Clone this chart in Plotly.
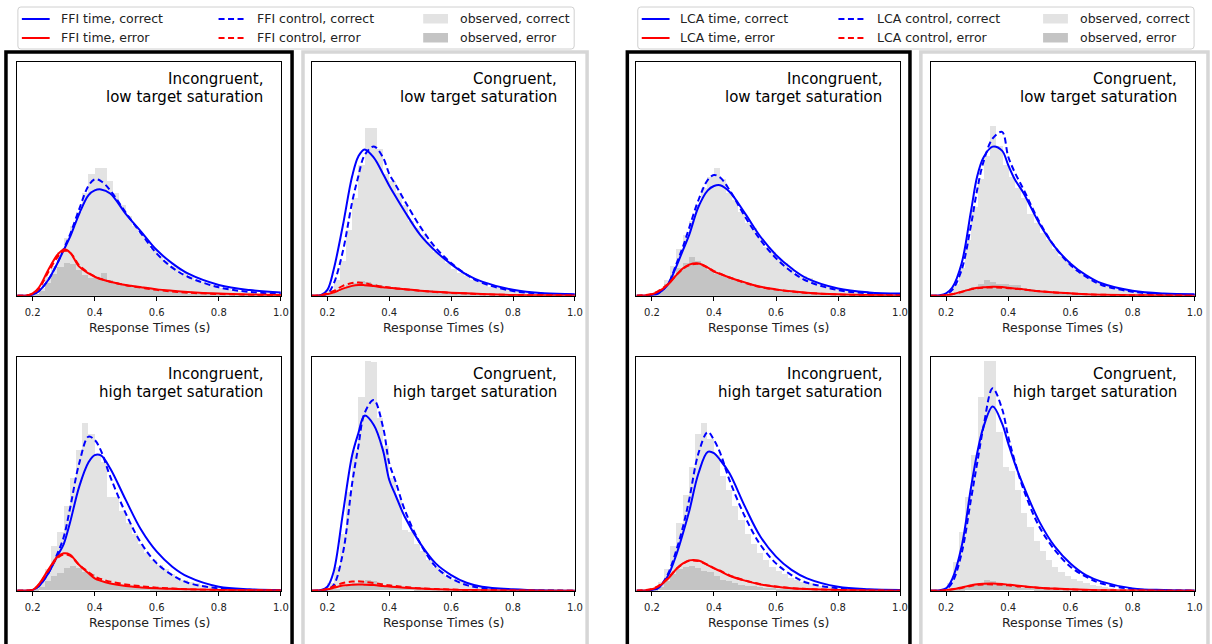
import plotly.graph_objects as go

# ---------------- data ----------------
# x positions of the model density curves (s)
CX = [0.15, 0.18, 0.20, 0.22, 0.25, 0.28, 0.30, 0.32, 0.35, 0.38, 0.40,
      0.42, 0.45, 0.50, 0.55, 0.60, 0.65, 0.70, 0.80, 0.90, 1.00]
# histogram bin centres (s), bin width 0.02
HX = [0.21, 0.23, 0.25, 0.27, 0.29, 0.31, 0.33, 0.35, 0.37, 0.39,
      0.41, 0.43, 0.45, 0.47, 0.49, 0.51, 0.53, 0.55, 0.57, 0.59,
      0.61, 0.63, 0.65, 0.67, 0.69, 0.71, 0.73, 0.75, 0.77, 0.79,
      0.81, 0.83, 0.85, 0.87, 0.89, 0.91, 0.93, 0.95, 0.97, 0.99]
X_TICKS = [0.2, 0.4, 0.6, 0.8, 1.0]
X_TICK_LABELS = ["0.2", "0.4", "0.6", "0.8", "1.0"]

# FFI, incongruent, low target saturation
ffi_il_tc = [0, 0, 0.05, 0.2, 0.67, 1.4, 1.95, 2.5, 3.5, 4.3, 4.5, 4.54, 4.37, 3.5, 2.73, 1.95, 1.38, 0.95, 0.46, 0.24, 0.14]
ffi_il_cc = [0, 0, 0.05, 0.2, 0.67, 1.4, 2.0, 2.6, 3.7, 4.7, 4.97, 4.9, 4.5, 3.55, 2.65, 1.8, 1.2, 0.81, 0.36, 0.16, 0.08]
ffi_il_te = [0, 0.01, 0.1, 0.35, 1.1, 1.75, 1.98, 1.85, 1.24, 0.95, 0.81, 0.7, 0.6, 0.46, 0.36, 0.27, 0.21, 0.16, 0.09, 0.05, 0.03]
ffi_il_ce = [0, 0.01, 0.08, 0.3, 1.0, 1.65, 1.91, 1.85, 1.3, 0.98, 0.83, 0.72, 0.6, 0.45, 0.34, 0.25, 0.18, 0.13, 0.07, 0.04, 0.02]
ffi_il_oc = [0.1, 0.35, 0.8, 1.3, 1.9, 2.5, 3.0, 3.6, 4.4, 5.2, 5.45, 5.45, 4.9, 4.4, 3.9, 3.4, 3.0, 2.7, 2.4, 2.0,
             1.7, 1.5, 1.3, 1.2, 1.0, 0.85, 0.7, 0.6, 0.5, 0.45, 0.35, 0.3, 0.25, 0.2, 0.15, 0.12, 0.1, 0.08, 0.06, 0.05]
ffi_il_oe = [0.05, 0.2, 0.55, 0.95, 1.25, 1.4, 1.35, 1.1, 0.9, 0.75, 0.75, 1.0, 0.7, 0.6, 0.5, 0.45, 0.4, 0.4, 0.35, 0.3,
             0.25, 0.22, 0.2, 0.15, 0.12, 0.1, 0.08, 0.07, 0.06, 0.05, 0.05, 0.04, 0.04, 0.03, 0.03, 0.02, 0.02, 0.02, 0.01, 0.01]

# FFI, congruent, low target saturation
ffi_cl_tc = [0, 0.03, 0.25, 1.1, 3.0, 5.1, 5.95, 6.25, 5.9, 5.2, 4.7, 4.25, 3.6, 2.6, 1.9, 1.35, 0.9, 0.6, 0.25, 0.1, 0.06]
ffi_cl_cc = [0, 0, 0.08, 0.5, 1.9, 4.0, 5.1, 6.0, 6.38, 5.9, 5.2, 4.75, 4.05, 2.95, 2.05, 1.4, 0.9, 0.55, 0.2, 0.08, 0.04]
ffi_cl_te = [0, 0.02, 0.07, 0.13, 0.3, 0.42, 0.46, 0.45, 0.41, 0.36, 0.34, 0.31, 0.28, 0.21, 0.17, 0.13, 0.1, 0.07, 0.03, 0.02, 0.01]
ffi_cl_ce = [0, 0.02, 0.1, 0.2, 0.42, 0.54, 0.56, 0.53, 0.45, 0.38, 0.35, 0.32, 0.28, 0.21, 0.16, 0.12, 0.09, 0.06, 0.03, 0.02, 0.01]
ffi_cl_oc = [0.2, 0.7, 1.5, 2.8, 4.2, 5.6, 7.2, 7.2, 6.3, 5.2, 4.9, 4.4, 3.9, 3.2, 2.9, 2.6, 2.3, 1.9, 1.7, 1.4,
             1.15, 1.0, 0.85, 0.7, 0.6, 0.5, 0.4, 0.35, 0.3, 0.25, 0.2, 0.15, 0.13, 0.1, 0.08, 0.06, 0.05, 0.04, 0.03, 0.03]
ffi_cl_oe = [0.05, 0.15, 0.3, 0.45, 0.55, 0.64, 0.6, 0.5, 0.45, 0.4, 0.4, 0.35, 0.3, 0.3, 0.25, 0.25, 0.25, 0.2, 0.15, 0.12,
             0.1, 0.08, 0.07, 0.06, 0.05, 0.04, 0.04, 0.03, 0.03, 0.02, 0.02, 0.02, 0.01, 0.01, 0.01, 0.01, 0.01, 0.01, 0.01, 0.01]

# FFI, incongruent, high target saturation
ffi_ih_tc = [0, 0, 0.03, 0.2, 0.74, 1.5, 2.0, 2.9, 4.46, 5.5, 5.81, 5.8, 5.24, 3.89, 2.6, 1.67, 1.03, 0.6, 0.17, 0.06, 0.03]
ffi_ih_cc = [0, 0, 0.03, 0.2, 0.74, 1.6, 2.3, 3.5, 5.46, 6.6, 6.46, 6.0, 4.89, 3.31, 2.03, 1.17, 0.67, 0.34, 0.1, 0.03, 0.01]
ffi_ih_te = [0, 0.01, 0.03, 0.28, 0.89, 1.45, 1.6, 1.55, 1.1, 0.75, 0.53, 0.42, 0.31, 0.2, 0.14, 0.1, 0.08, 0.06, 0.03, 0.02, 0.01]
ffi_ih_ce = [0, 0.01, 0.03, 0.26, 0.85, 1.4, 1.55, 1.5, 1.1, 0.8, 0.6, 0.5, 0.39, 0.27, 0.19, 0.13, 0.09, 0.06, 0.03, 0.02, 0.01]
ffi_ih_oc = [0.1, 0.4, 0.9, 1.9, 2.5, 3.6, 4.8, 6.0, 7.17, 6.7, 5.8, 5.5, 4.0, 4.0, 3.4, 2.9, 2.4, 2.0, 1.6, 1.3,
             1.1, 0.9, 0.7, 0.55, 0.45, 0.35, 0.3, 0.25, 0.2, 0.15, 0.12, 0.1, 0.08, 0.06, 0.05, 0.04, 0.03, 0.03, 0.02, 0.02]
ffi_ih_oe = [0.03, 0.15, 0.4, 0.6, 0.75, 0.95, 1.03, 0.95, 0.8, 0.7, 0.55, 0.4, 0.3, 0.25, 0.2, 0.17, 0.14, 0.12, 0.1, 0.08,
             0.06, 0.05, 0.04, 0.04, 0.03, 0.03, 0.02, 0.02, 0.02, 0.01, 0.01, 0.01, 0.01, 0.01, 0.01, 0.01, 0, 0, 0, 0]

# FFI, congruent, high target saturation
ffi_ch_tc = [0, 0.03, 0.17, 0.8, 3.3, 5.8, 6.74, 7.5, 7.1, 6.0, 4.74, 4.1, 3.17, 2.03, 1.17, 0.67, 0.34, 0.17, 0.06, 0.01, 0]
ffi_ch_cc = [0, 0, 0.05, 0.24, 1.6, 4.6, 6.17, 7.6, 8.17, 7.0, 5.46, 4.7, 3.46, 2.03, 1.03, 0.53, 0.24, 0.11, 0.03, 0.01, 0]
ffi_ch_te = [0, 0.02, 0.06, 0.12, 0.22, 0.26, 0.27, 0.26, 0.24, 0.2, 0.18, 0.16, 0.13, 0.09, 0.06, 0.04, 0.03, 0.02, 0.01, 0, 0]
ffi_ch_ce = [0, 0.02, 0.08, 0.18, 0.33, 0.39, 0.4, 0.38, 0.33, 0.27, 0.23, 0.2, 0.16, 0.1, 0.07, 0.05, 0.03, 0.02, 0.01, 0, 0]
ffi_ch_oc = [0.3, 1.0, 2.4, 4.2, 6.0, 8.3, 9.85, 9.8, 7.4, 6.2, 4.8, 3.9, 2.6, 2.5, 2.0, 1.7, 1.3, 1.0, 0.8, 0.6,
             0.5, 0.4, 0.3, 0.25, 0.2, 0.15, 0.12, 0.1, 0.08, 0.06, 0.05, 0.04, 0.04, 0.03, 0.03, 0.02, 0.02, 0.02, 0.01, 0.01]
ffi_ch_oe = [0.02, 0.05, 0.15, 0.25, 0.32, 0.4, 0.46, 0.4, 0.3, 0.25, 0.2, 0.15, 0.12, 0.1, 0.08, 0.06, 0.05, 0.04, 0.03, 0.03,
             0.02, 0.02, 0.02, 0.01, 0.01, 0.01, 0.01, 0.01, 0.01, 0.01, 0, 0, 0, 0, 0, 0, 0, 0, 0, 0]

# LCA, incongruent, low target saturation
lca_il_tc = [0, 0, 0.03, 0.1, 0.46, 1.3, 1.95, 2.6, 3.8, 4.5, 4.69, 4.72, 4.44, 3.52, 2.52, 1.74, 1.17, 0.74, 0.31, 0.14, 0.09]
lca_il_cc = [0, 0, 0.03, 0.1, 0.46, 1.4, 2.1, 2.9, 4.09, 4.95, 5.16, 5.05, 4.52, 3.38, 2.38, 1.6, 1.03, 0.63, 0.24, 0.1, 0.05]
lca_il_te = [0, 0.02, 0.06, 0.17, 0.46, 0.9, 1.17, 1.33, 1.38, 1.2, 1.03, 0.93, 0.78, 0.57, 0.38, 0.27, 0.19, 0.13, 0.06, 0.03, 0.01]
lca_il_ce = [0, 0.03, 0.08, 0.2, 0.48, 0.9, 1.15, 1.3, 1.36, 1.2, 1.05, 0.94, 0.78, 0.55, 0.37, 0.26, 0.18, 0.12, 0.05, 0.02, 0.01]
lca_il_oc = [0.1, 0.3, 0.7, 1.3, 2.0, 2.6, 3.2, 3.9, 4.6, 5.1, 5.45, 5.0, 4.4, 4.1, 3.6, 3.1, 2.9, 2.5, 2.1, 1.9,
             1.6, 1.4, 1.2, 0.95, 0.85, 0.75, 0.6, 0.5, 0.42, 0.35, 0.3, 0.25, 0.2, 0.17, 0.14, 0.12, 0.1, 0.08, 0.07, 0.06]
lca_il_oe = [0.05, 0.2, 0.5, 0.9, 1.2, 1.4, 1.67, 1.5, 1.3, 1.1, 0.95, 0.85, 0.75, 0.7, 0.6, 0.5, 0.45, 0.4, 0.35, 0.3,
             0.25, 0.22, 0.2, 0.15, 0.12, 0.1, 0.08, 0.07, 0.06, 0.05, 0.04, 0.04, 0.03, 0.03, 0.02, 0.02, 0.02, 0.01, 0.01, 0.01]

# LCA, congruent, low target saturation
lca_cl_tc = [0, 0.02, 0.1, 0.35, 1.38, 3.6, 5.09, 5.9, 6.37, 6.2, 5.58, 5.0, 4.37, 3.09, 2.09, 1.38, 0.88, 0.53, 0.21, 0.09, 0.06]
lca_cl_cc = [0, 0, 0.06, 0.25, 1.1, 3.0, 4.52, 5.7, 6.72, 7.0, 5.94, 5.3, 4.52, 3.16, 2.09, 1.31, 0.81, 0.46, 0.17, 0.06, 0.03]
lca_cl_te = [0, 0, 0.02, 0.06, 0.17, 0.28, 0.34, 0.36, 0.38, 0.37, 0.34, 0.31, 0.27, 0.19, 0.14, 0.1, 0.06, 0.04, 0.02, 0.01, 0]
lca_cl_ce = [0, 0, 0.02, 0.06, 0.16, 0.27, 0.32, 0.34, 0.35, 0.34, 0.32, 0.3, 0.26, 0.19, 0.14, 0.1, 0.06, 0.04, 0.02, 0.01, 0]
lca_cl_oc = [0.15, 0.5, 1.2, 2.4, 3.8, 5.0, 6.0, 7.25, 6.4, 5.6, 5.1, 4.6, 4.2, 3.5, 3.1, 2.7, 2.4, 2.0, 1.7, 1.5,
             1.2, 1.0, 0.85, 0.7, 0.55, 0.45, 0.4, 0.3, 0.25, 0.2, 0.17, 0.14, 0.1, 0.08, 0.06, 0.05, 0.04, 0.03, 0.03, 0.02]
lca_cl_oe = [0.02, 0.05, 0.15, 0.3, 0.4, 0.5, 0.67, 0.6, 0.5, 0.5, 0.45, 0.45, 0.35, 0.3, 0.25, 0.22, 0.2, 0.18, 0.12, 0.1,
             0.08, 0.07, 0.06, 0.05, 0.04, 0.03, 0.03, 0.02, 0.02, 0.02, 0.01, 0.01, 0.01, 0.01, 0.01, 0.01, 0, 0, 0, 0]

# LCA, incongruent, high target saturation
lca_ih_tc = [0, 0, 0.03, 0.12, 0.6, 1.6, 2.46, 3.4, 5.03, 5.95, 5.89, 5.6, 5.03, 3.6, 2.31, 1.46, 0.89, 0.53, 0.17, 0.06, 0.03]
lca_ih_cc = [0, 0, 0.03, 0.12, 0.67, 1.8, 2.74, 3.9, 5.89, 6.8, 6.46, 5.9, 4.74, 3.17, 1.96, 1.17, 0.67, 0.34, 0.1, 0.03, 0.01]
lca_ih_te = [0, 0.02, 0.06, 0.17, 0.49, 0.95, 1.17, 1.3, 1.29, 1.1, 0.96, 0.84, 0.64, 0.43, 0.27, 0.17, 0.11, 0.07, 0.03, 0.01, 0]
lca_ih_ce = [0, 0.03, 0.08, 0.2, 0.52, 0.95, 1.15, 1.28, 1.27, 1.1, 0.97, 0.86, 0.66, 0.44, 0.28, 0.18, 0.11, 0.07, 0.03, 0.01, 0]
lca_ih_oc = [0.1, 0.35, 0.9, 1.9, 2.9, 4.1, 5.3, 6.7, 7.17, 6.5, 5.8, 4.9, 4.3, 3.6, 3.0, 2.4, 2.0, 1.6, 1.3, 1.0,
             0.85, 0.7, 0.55, 0.45, 0.35, 0.3, 0.25, 0.2, 0.15, 0.12, 0.1, 0.08, 0.06, 0.05, 0.04, 0.03, 0.03, 0.02, 0.02, 0.02]
lca_ih_oe = [0.03, 0.15, 0.4, 0.7, 0.9, 1.0, 1.03, 0.95, 0.85, 0.8, 0.6, 0.45, 0.4, 0.3, 0.25, 0.2, 0.17, 0.15, 0.12, 0.1,
             0.08, 0.06, 0.05, 0.04, 0.03, 0.03, 0.02, 0.02, 0.02, 0.01, 0.01, 0.01, 0.01, 0.01, 0.01, 0, 0, 0, 0, 0]

# LCA, congruent, high target saturation
lca_ch_tc = [0, 0.02, 0.1, 0.5, 1.89, 4.4, 5.89, 7.0, 7.89, 7.17, 6.31, 5.5, 4.46, 2.96, 1.89, 1.17, 0.67, 0.39, 0.1, 0.03, 0.01]
lca_ch_cc = [0, 0, 0.06, 0.35, 1.6, 3.9, 5.46, 7.0, 8.67, 7.8, 6.6, 5.6, 4.31, 2.74, 1.74, 1.03, 0.6, 0.31, 0.07, 0.02, 0]
lca_ch_te = [0, 0, 0.02, 0.06, 0.14, 0.23, 0.28, 0.3, 0.31, 0.29, 0.26, 0.23, 0.19, 0.13, 0.09, 0.06, 0.04, 0.02, 0.01, 0, 0]
lca_ch_ce = [0, 0, 0.02, 0.05, 0.12, 0.2, 0.25, 0.27, 0.27, 0.25, 0.23, 0.2, 0.17, 0.12, 0.08, 0.05, 0.03, 0.02, 0.01, 0, 0]
lca_ch_oc = [0.3, 1.2, 2.5, 4.0, 5.8, 8.3, 9.85, 9.85, 6.8, 5.3, 5.1, 4.3, 3.3, 2.7, 2.1, 1.7, 1.3, 1.0, 0.8, 0.6,
             0.5, 0.4, 0.3, 0.22, 0.18, 0.14, 0.1, 0.08, 0.06, 0.05, 0.04, 0.03, 0.03, 0.02, 0.02, 0.02, 0.01, 0.01, 0.01, 0.01]
lca_ch_oe = [0.01, 0.03, 0.08, 0.15, 0.25, 0.33, 0.43, 0.42, 0.33, 0.27, 0.2, 0.15, 0.12, 0.1, 0.08, 0.06, 0.05, 0.04, 0.03, 0.03,
             0.02, 0.02, 0.01, 0.01, 0.01, 0.01, 0.01, 0, 0, 0, 0, 0, 0, 0, 0, 0, 0, 0, 0, 0]

# ---------------- layout helpers ----------------
W, H = 1212, 644
FONT = "DejaVu Sans"
BLUE, RED = "#0000ff", "#ff0000"
LIGHT, DARK = "#e3e3e3", "#c4c4c4"
DASH = "6px,3.5px"


def px(x):
    return x / W


def py(y):
    return 1 - y / H


COL_X = [(17.3, 282.7), (314.0, 578.7), (640.7, 906.0), (936.7, 1202.7)]
ROW_Y = [(61.7, 295.7), (357.3, 590.7)]

PANELS = [
    (0, 0, "Incongruent,", "low target saturation", ffi_il_tc, ffi_il_cc, ffi_il_te, ffi_il_ce, ffi_il_oc, ffi_il_oe),
    (1, 0, "Congruent,", "low target saturation", ffi_cl_tc, ffi_cl_cc, ffi_cl_te, ffi_cl_ce, ffi_cl_oc, ffi_cl_oe),
    (0, 1, "Incongruent,", "high target saturation", ffi_ih_tc, ffi_ih_cc, ffi_ih_te, ffi_ih_ce, ffi_ih_oc, ffi_ih_oe),
    (1, 1, "Congruent,", "high target saturation", ffi_ch_tc, ffi_ch_cc, ffi_ch_te, ffi_ch_ce, ffi_ch_oc, ffi_ch_oe),
    (2, 0, "Incongruent,", "low target saturation", lca_il_tc, lca_il_cc, lca_il_te, lca_il_ce, lca_il_oc, lca_il_oe),
    (3, 0, "Congruent,", "low target saturation", lca_cl_tc, lca_cl_cc, lca_cl_te, lca_cl_ce, lca_cl_oc, lca_cl_oe),
    (2, 1, "Incongruent,", "high target saturation", lca_ih_tc, lca_ih_cc, lca_ih_te, lca_ih_ce, lca_ih_oc, lca_ih_oe),
    (3, 1, "Congruent,", "high target saturation", lca_ch_tc, lca_ch_cc, lca_ch_te, lca_ch_ce, lca_ch_oc, lca_ch_oe),
]

fig = go.Figure()
annotations = []
shapes = []
layout_axes = {}

for i, (c, r, t1, t2, tc, cc, te, ce, oc, oe) in enumerate(PANELS):
    n = "" if i == 0 else str(i + 1)
    xa, ya = "x" + n, "y" + n
    x0, x1 = COL_X[c]
    y0, y1 = ROW_Y[r]
    fig.add_trace(go.Bar(x=HX, y=oc, width=0.02, marker=dict(color=LIGHT, line=dict(width=0)),
                         xaxis=xa, yaxis=ya, showlegend=False, hoverinfo="skip"))
    fig.add_trace(go.Bar(x=HX, y=oe, width=0.02, marker=dict(color=DARK, line=dict(width=0)),
                         xaxis=xa, yaxis=ya, showlegend=False, hoverinfo="skip"))
    for vals, col, dash in [(tc, BLUE, "solid"), (cc, BLUE, DASH), (te, RED, "solid"), (ce, RED, DASH)]:
        fig.add_trace(go.Scatter(x=CX, y=vals, mode="lines",
                                 line=dict(color=col, width=2, dash=dash, shape="spline", smoothing=1.0),
                                 xaxis=xa, yaxis=ya, showlegend=False, hoverinfo="skip"))
    layout_axes["xaxis" + n] = dict(
        domain=[px(x0), px(x1)], anchor=ya, range=[0.15, 1.0], showgrid=False, zeroline=False,
        showline=True, mirror=True, linecolor="black", linewidth=1,
        ticks="outside", ticklen=4, tickwidth=1, tickcolor="black",
        tickvals=X_TICKS, ticktext=X_TICK_LABELS, ticklabelstandoff=3,
        tickfont=dict(family=FONT, size=10, color="#222222"))
    layout_axes["yaxis" + n] = dict(
        domain=[py(y1), py(y0)], anchor=xa, range=[0, 10], showgrid=False, zeroline=False,
        showline=True, mirror=True, linecolor="black", linewidth=1,
        ticks="", showticklabels=False)
    # panel title (two right aligned lines)
    annotations.append(dict(text=t1, x=px(x1 - 16), y=py(y0 + 17), xref="paper", yref="paper",
                            xanchor="right", yanchor="middle", showarrow=False,
                            font=dict(family=FONT, size=15, color="black")))
    annotations.append(dict(text=t2, x=px(x1 - 16), y=py(y0 + 35), xref="paper", yref="paper",
                            xanchor="right", yanchor="middle", showarrow=False,
                            font=dict(family=FONT, size=15, color="black")))
    # x-axis title
    annotations.append(dict(text="Response Times (s)", x=px((x0 + x1) / 2), y=py(y1 + 32),
                            xref="paper", yref="paper", xanchor="center", yanchor="middle",
                            showarrow=False, font=dict(family=FONT, size=12.5, color="#222222")))

# group frames (black = incongruent column, grey = congruent column)
for (fx0, fx1, colr) in [(6, 294, "black"), (305, 591, "#d6d6d6"), (631.5, 916, "black"), (927, 1216, "#d6d6d6")]:
    shapes.append(dict(type="rect", xref="paper", yref="paper", x0=px(fx0), x1=px(fx1),
                       y0=py(52), y1=py(660), line=dict(color=colr, width=3.5), fillcolor="rgba(0,0,0,0)"))


# legends
def rounded_rect(x0, y0, x1, y1, r=3):
    X0, X1, Y0, Y1 = px(x0), px(x1), py(y0), py(y1)
    rx, ry = r / W, r / H
    return (f"M {X0+rx},{Y0} L {X1-rx},{Y0} Q {X1},{Y0} {X1},{Y0-ry} L {X1},{Y1+ry} "
            f"Q {X1},{Y1} {X1-rx},{Y1} L {X0+rx},{Y1} Q {X0},{Y1} {X0},{Y1+ry} "
            f"L {X0},{Y0-ry} Q {X0},{Y0} {X0+rx},{Y0} Z")


LEGENDS = [(18, "FFI"), (642, "LCA")]
for lx, model in LEGENDS:
    shapes.append(dict(type="path", xref="paper", yref="paper", path=rounded_rect(lx, 7, lx + 560, 49),
                       line=dict(color="#d0d0d0", width=1), fillcolor="white"))
    entries = [
        (0, 19, "line", BLUE, "solid", f"{model} time, correct"),
        (0, 38, "line", RED, "solid", f"{model} time, error"),
        (198, 19, "line", BLUE, DASH, f"{model} control, correct"),
        (198, 38, "line", RED, DASH, f"{model} control, error"),
        (408, 19, "patch", LIGHT, None, "observed, correct"),
        (408, 38, "patch", DARK, None, "observed, error"),
    ]
    for ox, yy, kind, colr, dash, label in entries:
        if kind == "line":
            shapes.append(dict(type="line", xref="paper", yref="paper", x0=px(lx + ox + 4), x1=px(lx + ox + 32),
                               y0=py(yy), y1=py(yy), line=dict(color=colr, width=2, dash=dash)))
        else:
            shapes.append(dict(type="rect", xref="paper", yref="paper", x0=px(lx + ox), x1=px(lx + ox + 25),
                               y0=py(yy - 5), y1=py(yy + 4.5), line=dict(width=0), fillcolor=colr))
        annotations.append(dict(text=label, x=px(lx + ox + (41 if kind == "line" else 35)), y=py(yy),
                                xref="paper", yref="paper", xanchor="left", yanchor="middle",
                                showarrow=False, font=dict(family=FONT, size=12.5, color="#222222")))

fig.update_layout(
    width=W, height=H, margin=dict(l=0, r=0, t=0, b=0),
    paper_bgcolor="white", plot_bgcolor="white",
    barmode="overlay", bargap=0, showlegend=False,
    annotations=annotations, shapes=shapes,
    font=dict(family=FONT),
    **layout_axes,
)

fig.write_html("out.html", config={"displayModeBar": False},
               post_script="document.body.style.margin='0';document.body.style.overflow='hidden';")
